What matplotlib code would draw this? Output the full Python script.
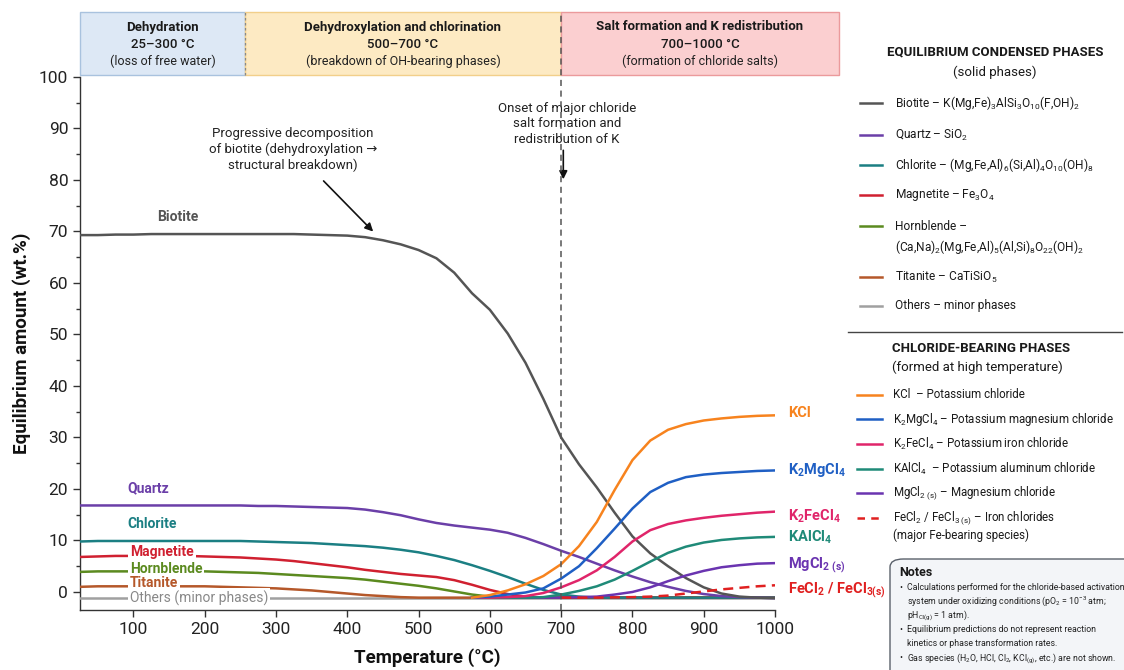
import numpy as np
import matplotlib
matplotlib.use("Agg")
import matplotlib.pyplot as plt
from matplotlib.patches import Rectangle, FancyBboxPatch
from matplotlib.lines import Line2D
from matplotlib import transforms

plt.rcParams['font.family'] = ['Roboto', 'DejaVu Sans']
plt.rcParams['mathtext.fontset'] = 'custom'
plt.rcParams['mathtext.rm'] = 'Roboto'
plt.rcParams['mathtext.it'] = 'Roboto:italic'
plt.rcParams['mathtext.bf'] = 'Roboto:bold'
plt.rcParams['mathtext.default'] = 'regular'

# ---------------- data ----------------
temperature = [25, 50, 75, 100, 125, 150, 175, 200, 225, 250, 275, 300, 325, 350,
               375, 400, 425, 450, 475, 500, 525, 550, 575, 600, 625, 650, 675, 700,
               725, 750, 775, 800, 825, 850, 875, 900, 925, 950, 975, 1000]

biotite = [69.3, 69.3, 69.4, 69.4, 69.5, 69.5, 69.5, 69.5, 69.5, 69.5, 69.5, 69.5, 69.5, 69.4,
           69.3, 69.2, 68.9, 68.3, 67.5, 66.4, 64.8, 62.0, 58.0, 54.8, 50.2, 44.5, 37.5, 30.0,
           24.8, 20.3, 15.4, 10.8, 7.5, 5.0, 2.7, 0.9, -0.3, -0.9, -1.1, -1.2]
quartz = [16.8, 16.8, 16.8, 16.8, 16.8, 16.8, 16.8, 16.8, 16.8, 16.8, 16.7, 16.7, 16.6, 16.5,
          16.4, 16.3, 16.0, 15.5, 14.9, 14.1, 13.4, 12.9, 12.5, 12.1, 11.5, 10.5, 9.3, 8.0,
          6.8, 5.5, 4.2, 3.0, 1.9, 1.0, 0.2, -0.4, -0.8, -1.0, -1.1, -1.2]
chlorite = [9.8, 9.9, 9.9, 9.9, 9.9, 9.9, 9.9, 9.9, 9.9, 9.9, 9.8, 9.7, 9.6, 9.5,
            9.3, 9.1, 8.9, 8.6, 8.2, 7.7, 7.0, 6.2, 5.2, 4.1, 2.9, 1.6, 0.4, -0.5,
            -0.9, -1.1, -1.1, -1.1, -1.1, -1.1, -1.1, -1.1, -1.1, -1.1, -1.1, -1.1]
magnetite = [6.8, 6.9, 7.0, 7.0, 7.0, 7.0, 7.0, 6.9, 6.8, 6.7, 6.5, 6.3, 6.0, 5.6,
             5.2, 4.8, 4.3, 3.9, 3.5, 3.2, 2.9, 2.3, 1.4, 0.4, -0.4, -0.9, -1.1, -1.1,
             -1.1, -1.1, -1.1, -1.1, -1.1, -1.1, -1.1, -1.1, -1.1, -1.1, -1.1, -1.1]
hornblende = [3.9, 4.0, 4.0, 4.0, 4.0, 4.0, 4.0, 4.0, 3.9, 3.8, 3.7, 3.5, 3.3, 3.1,
              2.9, 2.7, 2.4, 2.0, 1.6, 1.2, 0.7, 0.1, -0.5, -0.9, -1.1, -1.1, -1.1, -1.1,
              -1.1, -1.1, -1.1, -1.1, -1.1, -1.1, -1.1, -1.1, -1.1, -1.1, -1.1, -1.1]
titanite = [1.0, 1.1, 1.1, 1.1, 1.1, 1.1, 1.1, 1.1, 1.0, 0.9, 0.8, 0.7, 0.5, 0.3,
            0.0, -0.3, -0.6, -0.8, -1.0, -1.1, -1.1, -1.1, -1.1, -1.1, -1.1, -1.1, -1.1, -1.1,
            -1.1, -1.1, -1.1, -1.1, -1.1, -1.1, -1.1, -1.1, -1.1, -1.1, -1.1, -1.1]
others = [-1.2] * 40

temperature_hi = [575, 600, 625, 650, 675, 700, 725, 750, 775, 800, 825, 850, 875, 900,
                  925, 950, 975, 1000]
kcl = [-1.1, -0.6, 0.3, 1.5, 3.1, 5.4, 8.9, 13.6, 19.8, 25.6, 29.4, 31.5, 32.6, 33.3,
       33.7, 34.0, 34.2, 34.3]
k2mgcl4 = [-1.1, -0.9, -0.5, -0.1, 0.7, 2.6, 5.0, 8.5, 12.3, 16.2, 19.4, 21.2, 22.3, 22.8,
           23.1, 23.3, 23.5, 23.6]
k2fecl4 = [-1.1, -1.1, -1.0, -0.8, -0.2, 0.9, 2.3, 4.2, 6.8, 9.8, 12.0, 13.2, 13.9, 14.4,
           14.8, 15.1, 15.4, 15.6]
kalcl4 = [-1.1, -1.1, -1.1, -1.1, -1.0, -0.5, 0.2, 1.1, 2.4, 4.1, 5.9, 7.6, 8.8, 9.6,
          10.1, 10.4, 10.6, 10.7]
mgcl2 = [-1.1, -1.1, -1.1, -1.1, -1.1, -1.1, -1.0, -0.9, -0.5, 0.0, 0.9, 2.1, 3.2, 4.1,
         4.8, 5.2, 5.5, 5.6]
temperature_fe = [700, 725, 750, 775, 800, 825, 850, 875, 900, 925, 950, 975, 1000]
fecl = [-1.1, -1.1, -1.1, -1.05, -1.0, -0.9, -0.7, -0.3, 0.1, 0.5, 0.8, 1.1, 1.3]

solid_names = ["Biotite", "Quartz", "Chlorite", "Magnetite", "Hornblende", "Titanite",
               "Others (minor phases)"]
solid_colors = ["#555555", "#6b3fa8", "#1b7f83", "#d02030", "#5b8a1f", "#b5582a", "#a0a0a0"]
chloride_names = ["KCl", "K$_2$MgCl$_4$", "K$_2$FeCl$_4$", "KAlCl$_4$",
                  "MgCl$_{2\\ (s)}$", "FeCl$_2$ / FeCl$_{3(s)}$"]
chloride_colors = ["#f7831e", "#1f5fc4", "#e0256a", "#1f8a78", "#6a34b0", "#e02020"]

solid_legend = [["Biotite – K(Mg,Fe)$_3$AlSi$_3$O$_{10}$(F,OH)$_2$"],
                ["Quartz – SiO$_2$"],
                ["Chlorite – (Mg,Fe,Al)$_6$(Si,Al)$_4$O$_{10}$(OH)$_8$"],
                ["Magnetite – Fe$_3$O$_4$"],
                ["Hornblende –", "(Ca,Na)$_2$(Mg,Fe,Al)$_5$(Al,Si)$_8$O$_{22}$(OH)$_2$"],
                ["Titanite – CaTiSiO$_5$"],
                ["Others – minor phases"]]
chloride_legend = [["KCl  – Potassium chloride"],
                   ["K$_2$MgCl$_4$ – Potassium magnesium chloride"],
                   ["K$_2$FeCl$_4$ – Potassium iron chloride"],
                   ["KAlCl$_4$  – Potassium aluminum chloride"],
                   ["MgCl$_{2\\ (s)}$ – Magnesium chloride"],
                   ["FeCl$_2$ / FeCl$_{3\\ (s)}$ – Iron chlorides", "(major Fe-bearing species)"]]

stage_titles = ["Dehydration", "Dehydroxylation and chlorination",
                "Salt formation and K redistribution"]
stage_ranges = ["25–300 °C", "500–700 °C", "700–1000 °C"]
stage_notes = ["(loss of free water)", "(breakdown of OH-bearing phases)",
               "(formation of chloride salts)"]

notes_lines = [["Calculations performed for the chloride-based activation",
                "system under oxidizing conditions (pO$_2$ = 10$^{-3}$ atm;",
                "pH$_{Cl(g)}$ = 1 atm)."],
               ["Equilibrium predictions do not represent reaction",
                "kinetics or phase transformation rates."],
               ["Gas species (H$_2$O, HCl, Cl$_2$, KCl$_{(g)}$, etc.) are not shown."]]

# ---------------- figure ----------------
W, H = 1124, 670
fig = plt.figure(figsize=(W / 100, H / 100), dpi=100)


def fx(px):
    return px / W


def fy(py):
    return 1 - py / H


ax = fig.add_axes([fx(80), fy(610), fx(775) - fx(80), fy(77) - fy(610)])
ax.set_xlim(25, 1000)
ax.set_ylim(-3.5, 100)

solid_series = [biotite, quartz, chlorite, magnetite, hornblende, titanite, others]
for vals, col in zip(solid_series[::-1], solid_colors[::-1]):
    ax.plot(temperature, vals, color=col, lw=1.8, zorder=3)

chloride_series = [kcl, k2mgcl4, k2fecl4, kalcl4, mgcl2]
for vals, col in zip(chloride_series[::-1], chloride_colors[:5][::-1]):
    ax.plot(temperature_hi, vals, color=col, lw=1.8, zorder=4)
ax.plot(temperature_fe, fecl, color=chloride_colors[5], lw=1.8, ls=(0, (4, 2.5)), zorder=5)

# axes styling
for s in ['top', 'right']:
    ax.spines[s].set_visible(False)
for s in ['left', 'bottom']:
    ax.spines[s].set_color('#333333')
    ax.spines[s].set_linewidth(1.0)
ax.set_xticks([100, 200, 300, 400, 500, 600, 700, 800, 900, 1000])
ax.set_yticks([0, 10, 20, 30, 40, 50, 60, 70, 80, 90, 100])
ax.set_yticks([5, 15, 25, 35, 45, 55, 65, 75, 85, 95], minor=True)
ax.tick_params(axis='both', which='major', labelsize=12.5, length=5, width=1, color='#333333',
               labelcolor='#222222')
ax.tick_params(axis='y', which='minor', length=3, width=1, color='#333333')
ax.set_xlabel("Temperature (°C)", fontsize=13.5, fontweight='bold', labelpad=8, color='#111111')
ax.set_ylabel("Equilibrium amount (wt.%)", fontsize=13.5, fontweight='bold', labelpad=6,
              color='#111111')

# curve labels (left)
lab_pos = [(133, 72.8), (91, 20.2), (91, 13.2), (95, 7.8), (95, 4.5), (95, 1.7), (95, -1.2)]
for i, (name, col, (tx, ty)) in enumerate(zip(solid_names, solid_colors, lab_pos)):
    weight = 'normal' if i == 6 else 'bold'
    tcol = '#888888' if i == 6 else col
    bbox = dict(boxstyle='square,pad=0.15', fc='white', ec='none') if i >= 3 else None
    ax.text(tx, ty, name, color=tcol, fontsize=10, fontweight=weight, va='center',
            ha='left', bbox=bbox, zorder=6)

# curve labels (right)
right_pos = [34.7, 23.7, 14.6, 10.7, 5.2, 0.4]
for name, col, ty in zip(chloride_names, chloride_colors, right_pos):
    ax.text(1018, ty, name, color=col, fontsize=10.5, fontweight='bold', va='center',
            ha='left', clip_on=False)

# vertical dashed line at 700 °C (extends into banners)
blend = transforms.blended_transform_factory(ax.transData, fig.transFigure)
fig.add_artist(Line2D([700, 700], [fy(610), fy(12)], transform=blend, color='#555555',
                      lw=1.1, ls=(0, (4, 3)), zorder=1))

# annotations
ax.annotate("", xy=(439, 69.6), xytext=(364, 80.2),
            arrowprops=dict(arrowstyle='-|>', color='#111111', lw=1.2, mutation_scale=12))
ax.text(324, 86.0, "Progressive decomposition\nof biotite (dehydroxylation →\nstructural breakdown)",
        ha='center', va='center', fontsize=9.5, color='#222222', linespacing=1.25)
ax.text(708, 90.9, "Onset of major chloride\nsalt formation and\nredistribution of K",
        ha='center', va='center', fontsize=9.5, color='#222222', linespacing=1.25,
        bbox=dict(boxstyle='square,pad=0.1', fc='white', ec='none'), zorder=6)
ax.annotate("", xy=(703, 79.6), xytext=(703, 86.3),
            arrowprops=dict(arrowstyle='-|>', color='#111111', lw=1.2, mutation_scale=12),
            zorder=7)

# stage banners
banner_edges = [80, 245, 561, 839]
banner_fc = ["#dde8f5", "#fdeac3", "#fbcfd0"]
banner_ec = ["#a9c2de", "#f2cf8a", "#eb9a9c"]
for i in range(3):
    x0, x1 = banner_edges[i], banner_edges[i + 1]
    fig.add_artist(Rectangle((fx(x0), fy(75)), fx(x1) - fx(x0), fy(12) - fy(75),
                             transform=fig.transFigure, fc=banner_fc[i], ec=banner_ec[i],
                             lw=1.0, zorder=0))
    cx = fx((x0 + x1) / 2)
    fig.text(cx, fy(27), stage_titles[i], ha='center', va='center', fontsize=9.5,
             fontweight='bold', color='#1a1a1a')
    fig.text(cx, fy(44), stage_ranges[i], ha='center', va='center', fontsize=9.5,
             fontweight='medium', color='#1a1a1a')
    fig.text(cx, fy(61), stage_notes[i], ha='center', va='center', fontsize=9,
             color='#222222')
fig.add_artist(Line2D([fx(245), fx(245)], [fy(75), fy(12)], transform=fig.transFigure,
                      color='#888888', lw=0.9, ls=(0, (2, 2))))

# legend: solid phases
fig.text(fx(995), fy(52), "EQUILIBRIUM CONDENSED PHASES", ha='center', va='center',
         fontsize=9.5, fontweight='bold', color='#1a1a1a')
fig.text(fx(995), fy(72), "(solid phases)", ha='center', va='center', fontsize=9.5,
         color='#1a1a1a')
solid_leg_y = [103, 135, 165, 195, 226, 277, 306]
for lines, col, py in zip(solid_legend, solid_colors, solid_leg_y):
    fig.add_artist(Line2D([fx(860), fx(882)], [fy(py), fy(py)], transform=fig.transFigure,
                          color=col, lw=1.8))
    for k, ln in enumerate(lines):
        fig.text(fx(895), fy(py + 21 * k), ln, ha='left', va='center', fontsize=8.6,
                 color='#1a1a1a')

fig.add_artist(Line2D([fx(848), fx(1122)], [fy(332), fy(332)], transform=fig.transFigure,
                      color='#444444', lw=1.0))

# legend: chloride phases
fig.text(fx(892), fy(349), "CHLORIDE-BEARING PHASES", ha='left', va='center',
         fontsize=9.5, fontweight='bold', color='#1a1a1a')
fig.text(fx(892), fy(367), "(formed at high temperature)", ha='left', va='center',
         fontsize=9.5, color='#1a1a1a')
chl_leg_y = [395, 419, 444, 469, 493, 518]
for i, (lines, col, py) in enumerate(zip(chloride_legend, chloride_colors, chl_leg_y)):
    ls = (0, (3, 2.5)) if i == 5 else '-'
    fig.add_artist(Line2D([fx(857), fx(882)], [fy(py), fy(py)], transform=fig.transFigure,
                          color=col, lw=1.8, ls=ls))
    for k, ln in enumerate(lines):
        fig.text(fx(893), fy(py + 17 * k), ln, ha='left', va='center', fontsize=8.3,
                 color='#1a1a1a')

# notes box
fig.add_artist(FancyBboxPatch((fx(890), fy(700)), fx(1160) - fx(890), fy(559) - fy(700),
                              boxstyle='round,pad=0,rounding_size=0.012',
                              transform=fig.transFigure, fc='#f3f5f8', ec='#5a616b', lw=1.0))
fig.text(fx(899), fy(572), "Notes", ha='left', va='center', fontsize=9, fontweight='bold',
         color='#1a1a1a')
note_y = [[587, 601, 615], [629, 643], [658]]
for lines, ys in zip(notes_lines, note_y):
    fig.text(fx(899), fy(ys[0]), "•", ha='left', va='center', fontsize=6.3, color='#222222')
    for ln, py in zip(lines, ys):
        fig.text(fx(907), fy(py), ln, ha='left', va='center', fontsize=6.3, color='#222222')

fig.savefig("out.png", dpi=100)
